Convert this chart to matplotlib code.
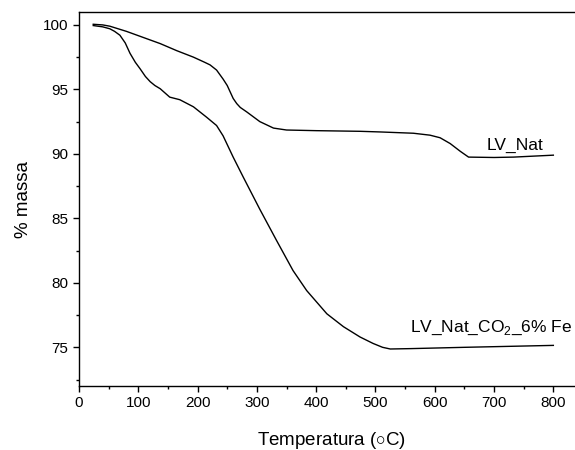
import matplotlib
matplotlib.use("Agg")
import matplotlib.pyplot as plt
from matplotlib.ticker import MultipleLocator

plt.rcParams['font.family'] = ['Liberation Sans', 'DejaVu Sans']
plt.rcParams['mathtext.fontset'] = 'custom'
plt.rcParams['mathtext.rm'] = 'Liberation Sans'

# LV_Nat (upper curve)
temp_nat = [24, 40, 52, 80, 110, 137, 165, 193, 212, 221, 232, 243, 250, 255, 260, 266,
            272, 283, 305, 328, 350, 400, 474, 508, 564, 592, 609, 626, 643, 657, 700,
            733, 800]
mass_nat = [100.05, 100.0, 99.9, 99.5, 99.0, 98.55, 98.0, 97.5, 97.1, 96.9, 96.5, 95.8,
            95.3, 94.8, 94.3, 93.9, 93.6, 93.25, 92.5, 92.0, 91.85, 91.8, 91.75, 91.7,
            91.6, 91.45, 91.25, 90.8, 90.2, 89.75, 89.72, 89.75, 89.9]

# LV_Nat_CO2_6% Fe (lower curve)
temp_fe = [24, 40, 52, 60, 69, 78, 86, 95, 103, 112, 120, 128, 137, 153, 170, 193, 215,
           232, 243, 260, 277, 305, 333, 361, 384, 418, 446, 474, 496, 512, 525, 560,
           650, 800]
mass_fe = [99.95, 99.85, 99.7, 99.5, 99.2, 98.6, 97.8, 97.1, 96.6, 96.0, 95.6, 95.3,
           95.05, 94.4, 94.2, 93.65, 92.85, 92.2, 91.4, 89.75, 88.2, 85.7, 83.3, 80.95,
           79.4, 77.6, 76.6, 75.8, 75.3, 75.0, 74.87, 74.9, 75.0, 75.15]

fig = plt.figure(figsize=(5.75, 4.5), dpi=100)
ax = fig.add_axes([0.1374, 0.1422, 0.8765, 0.8311])

ax.plot(temp_nat, mass_nat, color='black', lw=1.0)
ax.plot(temp_fe, mass_fe, color='black', lw=1.0)

ax.text(735, 90.65, 'LV_Nat', fontsize=12.5, ha='center', va='center')
ax.text(695, 76.5, r'LV_Nat_CO$_\mathregular{2}$_6% Fe', fontsize=12.5, ha='center', va='center')

ax.set_xlim(0, 850)
ax.set_ylim(72, 101)
ax.set_xticks([0, 100, 200, 300, 400, 500, 600, 700, 800])
ax.xaxis.set_minor_locator(MultipleLocator(50))
ax.yaxis.set_major_locator(MultipleLocator(5))
ax.yaxis.set_minor_locator(MultipleLocator(2.5))
ax.tick_params(which='major', length=4, width=1, labelsize=11, direction='out')
ax.tick_params(which='minor', length=2.5, width=1, direction='out')

for s in ax.spines.values():
    s.set_linewidth(1.0)
ax.spines['right'].set_visible(False)

ax.set_xlabel(r'Temperatura ($\circ$C)', fontsize=13.5, labelpad=14)
ax.set_ylabel('% massa', fontsize=13.5, labelpad=8)

fig.savefig('out.png', dpi=100)
